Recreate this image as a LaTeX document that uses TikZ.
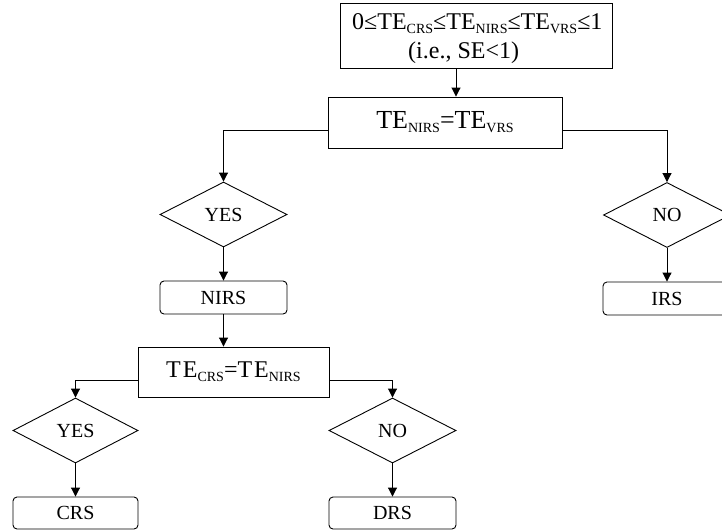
\documentclass[tikz,border=0pt]{standalone}
\usepackage{fontspec}
\setmainfont{Liberation Serif}
\usetikzlibrary{shapes.geometric,arrows.meta,calc}
\newcommand{\subsc}[1]{\raisebox{-4pt}{\fontsize{14}{14}\selectfont #1}}
\tikzset{
  conn/.style={line width=0.9pt,-{Triangle[length=9pt,width=9pt]}},
  eqbox/.style={draw,line width=0.9pt,rectangle,inner sep=0pt,font=\fontsize{24}{26}\selectfont},
  eqtext/.style={inner sep=0pt,font=\fontsize{24}{26}\selectfont},
  decide/.style={draw,line width=0.9pt,diamond,aspect=2,inner sep=0pt,font=\fontsize{20}{22}\selectfont},
  result/.style={draw,line width=0.9pt,rectangle,rounded corners=4pt,inner sep=0pt,font=\fontsize{20}{22}\selectfont}
}
\begin{document}
\begin{tikzpicture}[x=1pt,y=-1pt]
\useasboundingbox (0,0) rectangle (722,531);
\clip (0,0) rectangle (722,531);
% top box
\node[draw,line width=0.9pt,rectangle,minimum width=272pt,minimum height=65pt,inner sep=0pt] (top) at (476,35.5) {};
\node[eqtext,anchor=base west] (topa) at (352,29) {0≤TE\subsc{CRS}≤TE\subsc{NIRS}≤TE\subsc{VRS}≤1};
\node[eqtext,anchor=base west] (topb) at (408,58) {(i.e., SE<1)};
% second level
\node[eqbox,minimum width=234pt,minimum height=51pt,font=\fontsize{26}{28}\selectfont] (b2) at (445,122.5)
  {TE\subsc{NIRS}=TE\subsc{VRS}};
\node[decide,minimum width=127pt,minimum height=65pt] (yes1) at (223.5,214.5) {YES};
\node[decide,minimum width=127pt,minimum height=65pt] (no1) at (667,215) {NO};
\node[result,minimum width=127pt,minimum height=33pt] (nirs) at (223.5,297.5) {NIRS};
\node[result,minimum width=128pt,minimum height=33pt] (irs) at (667,298.5) {IRS};
% third level
\node[eqbox,minimum width=191pt,minimum height=50pt] (b3) at (233.5,372)
  {T\hspace{2pt}E\subsc{CRS}=T\hspace{2pt}E\subsc{NIRS}};
\node[decide,minimum width=125pt,minimum height=65pt] (yes2) at (75.5,430.5) {YES};
\node[decide,minimum width=127pt,minimum height=65pt] (no2) at (392.5,430.5) {NO};
\node[result,minimum width=125pt,minimum height=32pt] (crs) at (75.5,513) {CRS};
\node[result,minimum width=127pt,minimum height=32pt] (drs) at (392.5,513) {DRS};
% connectors
\draw[conn] ([xshift=-20pt]top.south) -- ([xshift=-20pt]top.south |- b2.north);
\draw[conn] ([yshift=-7.5pt]b2.west) -| (yes1.north);
\draw[conn] ([yshift=-7.5pt]b2.east) -| (no1.north);
\draw[conn] (yes1.south) -- (nirs.north);
\draw[conn] (no1.south) -- (irs.north);
\draw[conn] (nirs.south) -- (nirs.south |- b3.north);
\draw[conn] ([yshift=-8pt]b3.west) -| (yes2.north);
\draw[conn] ([yshift=-8pt]b3.east) -| (no2.north);
\draw[conn] (yes2.south) -- (crs.north);
\draw[conn] (no2.south) -- (drs.north);
\end{tikzpicture}
\end{document}
